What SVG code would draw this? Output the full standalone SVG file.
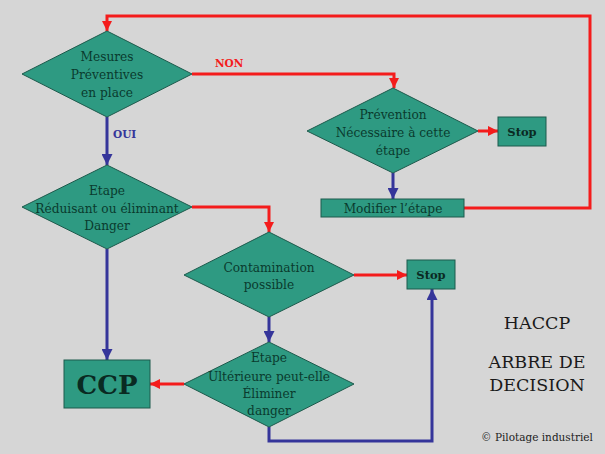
<svg xmlns="http://www.w3.org/2000/svg" width="605" height="454" viewBox="0 0 605 454">
<defs>
<style>
.bg{fill:#d6d6d6}
.node{fill:#2e9a82;stroke:#1d5a4c;stroke-width:1}
.t{font-family:'DejaVu Serif','Liberation Serif',serif;font-size:12.2px;fill:#0a3a2e;text-anchor:middle}
.tb{font-family:'DejaVu Serif','Liberation Serif',serif;font-weight:bold;fill:#0a2a22;text-anchor:middle}
.red{fill:none;stroke:#f41c1c;stroke-width:3}
.blue{fill:none;stroke:#35359a;stroke-width:3}
.lbl{font-family:'DejaVu Serif','Liberation Serif',serif;font-size:10.5px;font-weight:bold}
.title{font-family:'DejaVu Serif','Liberation Serif',serif;font-size:17.5px;fill:#1a1a1a;text-anchor:middle}
.copy{font-family:'DejaVu Serif','Liberation Serif',serif;font-size:10.5px;fill:#222;text-anchor:middle}
</style>
<marker id="ar" viewBox="0 0 10 10" refX="10" refY="5" markerWidth="10" markerHeight="10" markerUnits="userSpaceOnUse" orient="auto">
<path d="M0,0 L10,5 L0,10 Z" fill="#f41c1c"/>
</marker>
<marker id="ab" viewBox="0 0 10 10" refX="10" refY="5" markerWidth="11" markerHeight="11" markerUnits="userSpaceOnUse" orient="auto">
<path d="M0,0 L10,5 L0,10 Z" fill="#35359a"/>
</marker>
</defs>
<rect class="bg" x="0" y="0" width="605" height="454"/>
<g id="connectors">
<polyline class="red" points="464,208 590,208 590,16 107,16 107,31" marker-end="url(#ar)"/>
<polyline class="red" points="192,74 394,74 394,88" marker-end="url(#ar)"/>
<line class="blue" x1="107" y1="117" x2="107" y2="165" marker-end="url(#ab)"/>
<line class="red" x1="478" y1="131" x2="498" y2="131" marker-end="url(#ar)"/>
<line class="blue" x1="393" y1="173" x2="393" y2="199" marker-end="url(#ab)"/>
<polyline class="red" points="192,207 269,207 269,232" marker-end="url(#ar)"/>
<line class="blue" x1="107" y1="249" x2="107" y2="360" marker-end="url(#ab)"/>
<line class="red" x1="354" y1="275" x2="407" y2="275" marker-end="url(#ar)"/>
<line class="blue" x1="269" y1="317" x2="269" y2="342" marker-end="url(#ab)"/>
<line class="red" x1="184" y1="384" x2="150" y2="384" marker-end="url(#ar)"/>
<polyline class="blue" points="269,427 269,441 432,441 432,289" marker-end="url(#ab)"/>
<text class="lbl" x="215" y="67" fill="#f41c1c">NON</text>
<text class="lbl" x="113" y="138" fill="#35359a">OUI</text>
</g>
<g id="mesures">
<polygon class="node" points="107,31 192,74 107,117 22,74"/>
<text class="t" x="107" y="61">Mesures</text>
<text class="t" x="107" y="79">Préventives</text>
<text class="t" x="107" y="97">en place</text>
</g>
<g id="prevention">
<polygon class="node" points="393,88 478,131 393,173 307,131"/>
<text class="t" x="393" y="119">Prévention</text>
<text class="t" x="393" y="137">Nécessaire à cette</text>
<text class="t" x="393" y="155">étape</text>
</g>
<g id="stop1">
<rect class="node" x="498" y="117" width="48" height="29"/>
<text class="tb" x="522" y="136" font-size="11.5">Stop</text>
</g>
<g id="modifier">
<rect class="node" x="321" y="199" width="143" height="18"/>
<text class="t" x="393" y="213">Modifier l’étape</text>
</g>
<g id="etape">
<polygon class="node" points="107,165 192,207 107,249 22,207"/>
<text class="t" x="107" y="195">Etape</text>
<text class="t" x="107" y="213">Réduisant ou éliminant</text>
<text class="t" x="107" y="230">Danger</text>
</g>
<g id="contamination">
<polygon class="node" points="269,232 354,275 269,317 184,275"/>
<text class="t" x="269" y="272">Contamination</text>
<text class="t" x="269" y="289">possible</text>
</g>
<g id="stop2">
<rect class="node" x="407" y="260" width="48" height="29"/>
<text class="tb" x="431" y="279" font-size="11.5">Stop</text>
</g>
<g id="ulterieure">
<polygon class="node" points="269,342 354,384 269,427 184,384"/>
<text class="t" x="269" y="362">Etape</text>
<text class="t" x="269" y="381">Ultérieure peut-elle</text>
<text class="t" x="269" y="398">Éliminer</text>
<text class="t" x="269" y="415">danger</text>
</g>
<g id="ccp">
<rect class="node" x="64" y="360" width="86" height="48"/>
<text class="tb" x="107" y="394" font-size="26" fill="#000">CCP</text>
</g>
<g id="title">
<text class="title" x="537" y="329">HACCP</text>
<text class="title" x="537" y="368">ARBRE DE</text>
<text class="title" x="537" y="391">DECISION</text>
<text class="copy" x="537" y="441">© Pilotage industriel</text>
</g>
</svg>
